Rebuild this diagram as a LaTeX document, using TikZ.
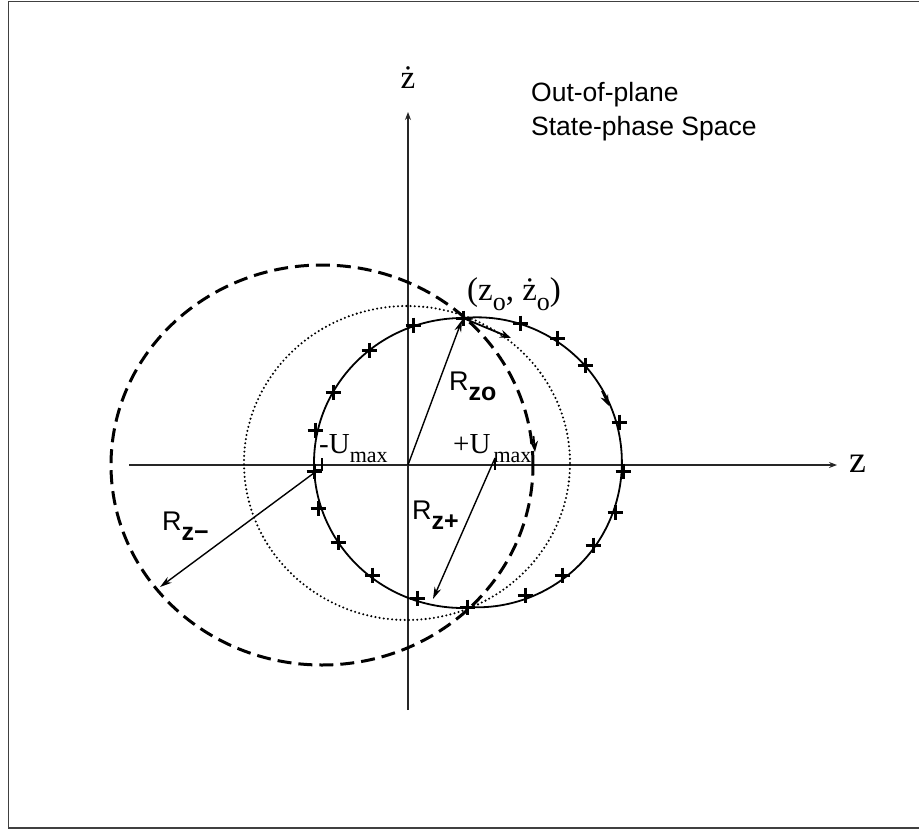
\documentclass[tikz,border=0pt]{standalone}
\usepackage{fontspec}
\setmainfont{Liberation Serif}
\newfontfamily\arialf{Liberation Sans}
\usetikzlibrary{arrows.meta}
\newcommand\lowsub[3]{\raisebox{-#1}{\fontsize{#2}{#2}\selectfont #3}}
\begin{document}
\begin{tikzpicture}[x=1pt,y=-1pt,
  traj/.style={line width=1.8pt},
  dashtraj/.style={line width=3pt, dash pattern=on 14pt off 7pt},
  dottraj/.style={line width=2.3pt, line cap=round, dash pattern=on 0pt off 4.2pt},
  axisline/.style={line width=1.1pt, black!85, -{Stealth[length=8pt,width=6pt]}},
  radarrow/.style={line width=1.4pt, -{Stealth[length=12pt,width=7pt]}},
  tiparrow/.style={line width=1.8pt, -{Stealth[length=11pt,width=8pt]}},
  serif/.style={inner sep=0pt, anchor=base west},
  sans/.style={inner sep=0pt, anchor=base west, font=\arialf\fontsize{26.5}{26.5}\selectfont},
  pluspic/.pic={\draw[line width=3pt] (-7.5,0) -- (7.5,0) (0,-7.5) -- (0,7.5);}
]
\useasboundingbox (0,0) rectangle (919,831);
\draw[black!75, line width=1.6pt] (925,1.5) -- (8.5,1.5) -- (8.5,828) -- (925,828);

% key points
\coordinate (O) at (408,465);
\coordinate (Z0) at (463,318);
\coordinate (Zb) at (467,607);
\coordinate (Um) at (322,465);
\coordinate (Up) at (495,465);
\coordinate (DC) at (407,463);
\coordinate (Vb) at (408,710);
\coordinate (Vt) at (408,112);
\coordinate (Hl) at (129,465);
\coordinate (Hr) at (837,465);

% axes
\draw[axisline] (Vb) -- (Vt);
\draw[axisline] (Hl) -- (Hr);

% circles
\draw[dashtraj] (Um) ellipse[x radius=211pt, y radius=200pt];
\draw[dottraj] (DC) ellipse[x radius=163pt, y radius=157pt];
\draw[traj] (Z0) arc[start angle=90, end angle=270, x radius=149pt, y radius=145pt];
\draw[traj] (Z0) arc[start angle=95.5, end angle=-93.6, radius=145pt];

% ticks
\coordinate (UmT) at (322,458);
\coordinate (UmB) at (322,470);
\coordinate (UpT) at (495,458);
\coordinate (UpB) at (495,470);
\draw[line width=1.5pt] (UmT) -- (UmB) -- (316,470);
\draw[line width=1.5pt] (UpT) -- (UpB);

% radius arrows
\coordinate (Rzoe) at (462,320);
\coordinate (Rzpe) at (433,599);
\coordinate (Rzme) at (160,587);
\draw[radarrow] (O) -- (Rzoe);
\draw[radarrow] (UpT) -- (Rzpe);
\draw[radarrow] (318,470) -- (Rzme);

% direction arrows on trajectories
\coordinate (A1) at (511,338);
\coordinate (A2s) at (533.5,436);
\coordinate (A2) at (535,452);
\coordinate (A3s) at (602,391);
\coordinate (A3) at (609,406);
\draw[tiparrow] (Z0) -- (A1);
\draw[tiparrow] (A2s) -- (A2);
\draw[tiparrow] (A3s) -- (A3);

% plus markers
\foreach \p in {(413,325),(369,350),(333,392),(315,430),(314,471),(318,508),(338,542),(372,575),(417,598),(467,607),(463,318),(520,323),(557,338),(585,365),(619,422),(623,471),(615,512),(593,545),(562,575),(525,595)}
  \pic at \p {pluspic};

% labels
\node[sans] (t1) at (531,101) {Out-of-plane};
\node[sans] (t2) at (531,135) {State-phase Space};
\node[inner sep=0pt, anchor=base, font=\fontsize{33}{33}\selectfont] (zdot) at (408,88) {ż};
\node[serif, font=\fontsize{38}{38}\selectfont] (zr) at (849,472) {z};
\node[serif, font=\fontsize{33}{33}\selectfont] (z0l) at (467,300) {(z\lowsub{10pt}{26}{o}, ż\lowsub{10pt}{26}{o})};
\node[serif, font=\fontsize{29}{29}\selectfont] (uml) at (319,453) {-U\lowsub{9pt}{22}{max}};
\node[serif, font=\fontsize{29}{29}\selectfont] (upl) at (453,453) {+U\hspace{3pt}\lowsub{9pt}{22}{max}};
\node[sans, font=\arialf\fontsize{27}{27}\selectfont] (rzo) at (449,390) {R\lowsub{10pt}{25}{\bfseries zo}};
\node[sans, font=\arialf\fontsize{27}{27}\selectfont] (rzp) at (412,519) {R\lowsub{10pt}{25}{\bfseries z+}};
\node[sans, font=\arialf\fontsize{27}{27}\selectfont] (rzm) at (162,530) {R\lowsub{10pt}{25}{\bfseries z−}};
\end{tikzpicture}
\end{document}
